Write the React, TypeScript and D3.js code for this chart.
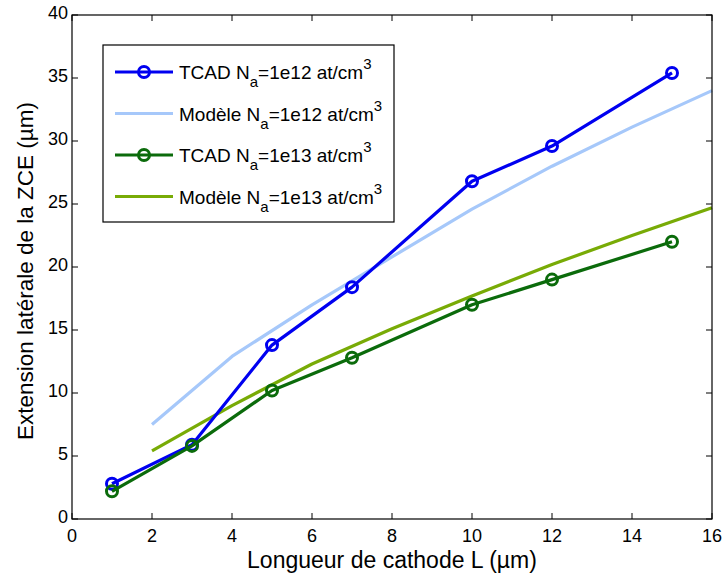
import React from 'react'
import * as d3 from 'd3'

// values
const tcadL = [1, 3, 5, 7, 10, 12, 15]
const tcad12 = [2.8, 5.9, 13.8, 18.4, 26.8, 29.6, 35.4]
const tcad13 = [2.2, 5.8, 10.2, 12.8, 17.0, 19.0, 22.0]
const modelL = [2, 4, 6, 8, 10, 12, 14, 16]
const model12 = [7.5, 12.9, 17.0, 20.8, 24.6, 28.0, 31.1, 34.0]
const model13 = [5.4, 9.0, 12.3, 15.1, 17.7, 20.2, 22.5, 24.7]
const xTicks = [0, 2, 4, 6, 8, 10, 12, 14, 16]
const yTicks = [0, 5, 10, 15, 20, 25, 30, 35, 40]

const legendItems = [
  { kind: 'TCAD', dop: '1e12', color: '#0000f0', marker: true },
  { kind: 'Modèle', dop: '1e12', color: '#a6c8fa', marker: false },
  { kind: 'TCAD', dop: '1e13', color: '#0b6b0b', marker: true },
  { kind: 'Modèle', dop: '1e13', color: '#78ab06', marker: false },
]

const W = 724
const H = 576
const margin = { top: 15, right: 12, bottom: 57, left: 72 }

export default function App() {
  const iw = W - margin.left - margin.right
  const ih = H - margin.top - margin.bottom
  const x = d3.scaleLinear().domain([0, 16]).range([0, iw])
  const y = d3.scaleLinear().domain([0, 40]).range([ih, 0])
  const line = d3.line<[number, number]>().x(d => x(d[0])).y(d => y(d[1]))

  const series = [
    { xs: tcadL, ys: tcad12, ...legendItems[0] },
    { xs: modelL, ys: model12, ...legendItems[1] },
    { xs: tcadL, ys: tcad13, ...legendItems[2] },
    { xs: modelL, ys: model13, ...legendItems[3] },
  ]
  // draw order: models underneath TCAD
  const order = [1, 3, 0, 2]
  const font = 'Liberation Sans, Arial, Helvetica, sans-serif'

  return (
    <svg width={W} height={H} style={{ position: 'absolute', left: 0, top: 0, background: '#fff' }} fontFamily={font}>
      <rect width={W} height={H} fill="#fff" />
      <g transform={`translate(${margin.left},${margin.top})`}>
        {order.map(i => {
          const s = series[i]
          const pts = s.xs.map((v, k) => [v, s.ys[k]] as [number, number])
          return (
            <g key={i}>
              <path d={line(pts) || ''} fill="none" stroke={s.color} strokeWidth={3.2} strokeLinejoin="round" />
              {s.marker && pts.map((p, k) => (
                <circle key={k} cx={x(p[0])} cy={y(p[1])} r={5.5} fill="none" stroke={s.color} strokeWidth={3} />
              ))}
            </g>
          )
        })}

        {/* frame and ticks */}
        <rect x={0} y={0} width={iw} height={ih} fill="none" stroke="#000" strokeWidth={1.2} />
        {xTicks.map(t => (
          <g key={'x' + t}>
            <line x1={x(t)} x2={x(t)} y1={ih} y2={ih - 6} stroke="#000" />
            <line x1={x(t)} x2={x(t)} y1={0} y2={6} stroke="#000" />
            <text x={x(t)} y={ih + 22.5} fontSize={18} textAnchor="middle">{t}</text>
          </g>
        ))}
        {yTicks.map(t => (
          <g key={'y' + t}>
            <line x1={0} x2={6} y1={y(t)} y2={y(t)} stroke="#000" />
            <line x1={iw} x2={iw - 6} y1={y(t)} y2={y(t)} stroke="#000" />
            <text x={-4} y={y(t) + 4} fontSize={18} textAnchor="end">{t}</text>
          </g>
        ))}

        <text x={iw / 2} y={ih + 49} fontSize={23} textAnchor="middle">Longueur de cathode L (µm)</text>
        <text transform={`translate(${-39},${ih / 2 + 4}) rotate(-90)`} fontSize={22.5} textAnchor="middle">
          Extension latérale de la ZCE (µm)
        </text>

        {/* legend */}
        <g transform="translate(31,30)">
          <rect x={0} y={0} width={291} height={177} fill="#fff" stroke="#000" strokeWidth={1.2} />
          {legendItems.map((it, i) => {
            const cy = 27 + i * 41.5
            return (
              <g key={i}>
                <line x1={12} x2={70} y1={cy} y2={cy} stroke={it.color} strokeWidth={3.2} />
                {it.marker && <circle cx={41} cy={cy} r={5.5} fill="none" stroke={it.color} strokeWidth={3} />}
                <text x={76} y={cy + 7} fontSize={19}>
                  {it.kind} N<tspan dy={8} fontSize={15}>a</tspan>
                  <tspan dy={-8}>=</tspan>{it.dop} at/cm<tspan dy={-10} fontSize={15}>3</tspan>
                </text>
              </g>
            )
          })}
        </g>
      </g>
    </svg>
  )
}
